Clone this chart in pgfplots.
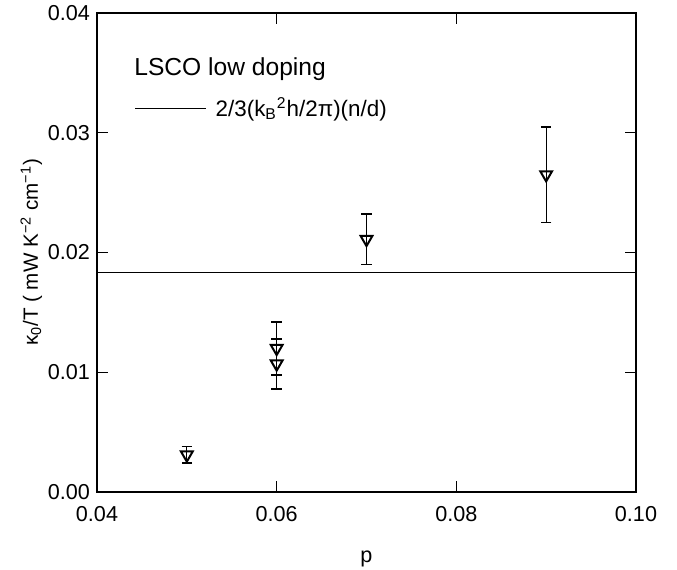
\documentclass[border=0pt]{standalone}
\usepackage{fontspec}
\setmainfont{Liberation Sans}
\usepackage{pgfplots}
\pgfplotsset{compat=1.18}
\pgfplotstableread{
x y e
0.05 0.0031 0.0007
0.06 0.0120 0.0022
0.06 0.0107 0.0021
0.07 0.0211 0.0021
0.09 0.0265 0.0040
}\kappadata
\begin{document}
\begin{tikzpicture}
\begin{axis}[name=ax, scale only axis, width=269.5pt, height=239.5pt,
  xmin=0.04, xmax=0.10, ymin=0, ymax=0.04,
  xtick={0.04,0.06,0.08,0.10}, ytick={0,0.01,0.02,0.03,0.04},
  scaled ticks=false,
  /pgf/number format/assume math mode=true,
  /pgf/number format/fixed, /pgf/number format/fixed zerofill, /pgf/number format/precision=2,
  tick align=inside, major tick length=5.5pt,
  axis line style={line width=1pt}, tick style={line width=0.6pt, black},
  font=\fontsize{10.8}{13}\selectfont,
  tick label style={font=\fontsize{10.8}{13}\selectfont},
  xticklabel style={yshift=-3.5pt},
  xlabel={p}, xlabel style={yshift=-8pt},
  ylabel={κ\textsubscript{0}/T ( mW K\textsuperscript{−2} cm\textsuperscript{−1})},
  ylabel style={font=\fontsize{10.3}{12}\selectfont, yshift=-4pt, xshift=0pt},
  legend style={draw=none, fill=none, at={(0.0686,0.801)}, anchor=west, inner sep=0pt,
    font=\fontsize{11.2}{13}\selectfont},
  legend image code/.code={\draw[#1] (0pt,0pt) -- (35.5pt,0pt);},
  clip=false,
]
\addplot[black, line width=0.65pt] coordinates {(0.04,0.01835) (0.10,0.01835)};
\addlegendentry{\hspace{2.5pt}2/3(k\textsubscript{B}\textsuperscript{2}h/2π)(n/d)}
\addplot[forget plot, black, only marks, mark=triangle, mark size=3.4pt,
  mark options={rotate=180, fill=white, line width=1pt, solid},
  error bars/.cd, y dir=both, y explicit,
  error bar style={line width=0.6pt, black},
  error mark options={rotate=90, mark size=2.6pt, line width=0.9pt, black}]
  table[x=x, y=y, y error=e] {\kappadata};
\node[anchor=west, inner sep=0pt, font=\fontsize{12.3}{15}\selectfont] at (rel axis cs:0.0686,0.883) {LSCO low doping};
\end{axis}
\pgfresetboundingbox
\path ([shift={(-48.5pt,-39pt)}]ax.south west) rectangle ([shift={(20.5pt,6.5pt)}]ax.north east);
\end{tikzpicture}
\end{document}
